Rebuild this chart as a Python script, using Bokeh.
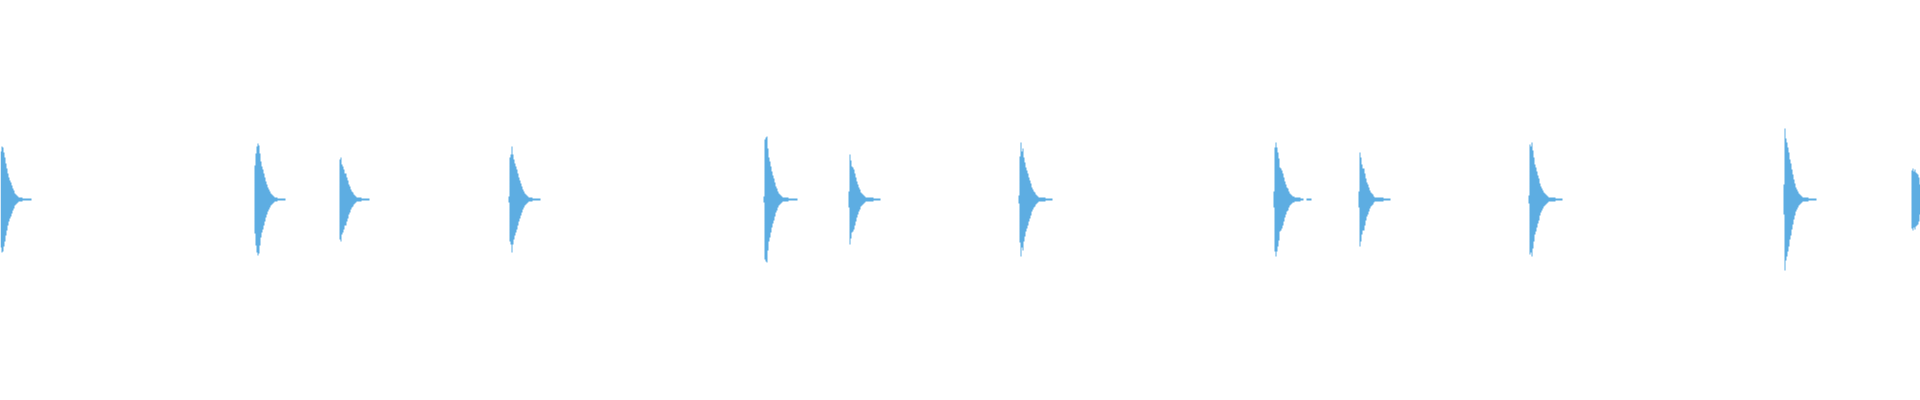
from bokeh.plotting import figure
from bokeh.models import ColumnDataSource
from bokeh.embed import file_html
from bokeh.resources import INLINE

# waveform: one column per screen pixel, amplitude in pixels above/below the centre line
n_columns = 1920
hit_starts = [0, 254, 339, 508, 763, 848, 1018, 1273, 1358, 1528, 1783, 1911]

hit_a = [48, 53, 52, 47, 42, 36, 31, 26, 22, 19, 17, 14, 11, 9, 6, 5, 4, 3, 2, 2,
         2, 2, 1, 1, 1, 1, 1, 1, 1, 1, 1]
hit_b = [34, 46, 53, 56, 54, 46, 38, 33, 30, 26, 22, 18, 15, 12, 10, 8, 6, 5, 4, 3,
         2, 2, 2, 1, 1, 1, 1, 1, 1, 1, 1]
hit_c = [40, 42, 35, 33, 30, 26, 26, 22, 19, 15, 13, 10, 8, 7, 5, 4, 3, 2, 2, 2,
         2, 2, 1, 1, 1, 1, 1, 1, 1, 1]
hit_d = [3, 42, 45, 53, 45, 40, 36, 33, 30, 26, 22, 19, 16, 13, 10, 8, 6, 5, 4, 3,
         2, 2, 2, 2, 1, 1, 1, 1, 1, 1, 1, 1]
hit_e = [3, 60, 62, 63, 51, 42, 38, 33, 28, 24, 21, 17, 13, 11, 8, 6, 5, 4, 3, 2,
         2, 2, 2, 2, 2, 1, 1, 1, 1, 1, 1, 1, 1, 1]
hit_f = [8, 45, 39, 33, 32, 30, 26, 22, 18, 15, 12, 10, 7, 6, 5, 4, 3, 2, 2, 2,
         2, 2, 2, 2, 2, 1, 1, 1, 1, 1, 1, 1]
hit_g = [4, 43, 57, 48, 51, 42, 37, 32, 29, 26, 22, 19, 16, 12, 10, 8, 7, 5, 4, 3,
         2, 2, 2, 2, 2, 2, 2, 1, 1, 1, 1, 1, 1, 1]
hit_h = [8, 52, 57, 52, 47, 41, 32, 31, 29, 26, 22, 18, 15, 12, 11, 8, 6, 5, 4, 3,
         3, 2, 2, 2, 2, 2, 2, 1, 1, 1, 0, 0, 0, 1, 1, 1, 1, 1]
hit_i = [8, 47, 42, 35, 31, 31, 26, 21, 17, 15, 12, 9, 7, 6, 5, 3, 2, 2, 2, 2,
         2, 2, 2, 2, 2, 1, 1, 1, 1, 1, 1, 1]
hit_j = [4, 55, 53, 57, 49, 42, 35, 32, 28, 24, 21, 16, 13, 11, 9, 7, 6, 5, 4, 3,
         2, 2, 2, 2, 2, 2, 2, 1, 1, 1, 1, 1, 1, 1]
hit_k = [15, 71, 61, 57, 52, 47, 40, 36, 30, 25, 20, 16, 12, 10, 8, 6, 5, 4, 3, 2,
         2, 2, 2, 2, 2, 1, 1, 1, 1, 1, 1, 1, 1]
hit_l = [29, 31, 28, 30, 27, 26, 25, 22, 15]

hits = [hit_a, hit_b, hit_c, hit_d, hit_e, hit_f, hit_g, hit_h, hit_i, hit_j, hit_k, hit_l]

amp = [0] * (n_columns + 1)
for start, env in zip(hit_starts, hits):
    for i, a in enumerate(env):
        if start + i < n_columns:
            amp[start + i] = a

source = ColumnDataSource(data=dict(
    x=list(range(n_columns + 1)),
    top=amp,
    bottom=[-a for a in amp],
))

p = figure(width=1920, height=400, x_range=(0, 1920), y_range=(-201, 199),
           toolbar_location=None, output_backend="svg", min_border=0)
p.varea_step(x="x", y1="bottom", y2="top", source=source, step_mode="after",
             fill_color="#5DADE2")

p.axis.visible = False
p.grid.visible = False
p.outline_line_color = None
p.background_fill_color = "white"
p.border_fill_color = "white"

open("out.html", "w").write(file_html(p, INLINE))
